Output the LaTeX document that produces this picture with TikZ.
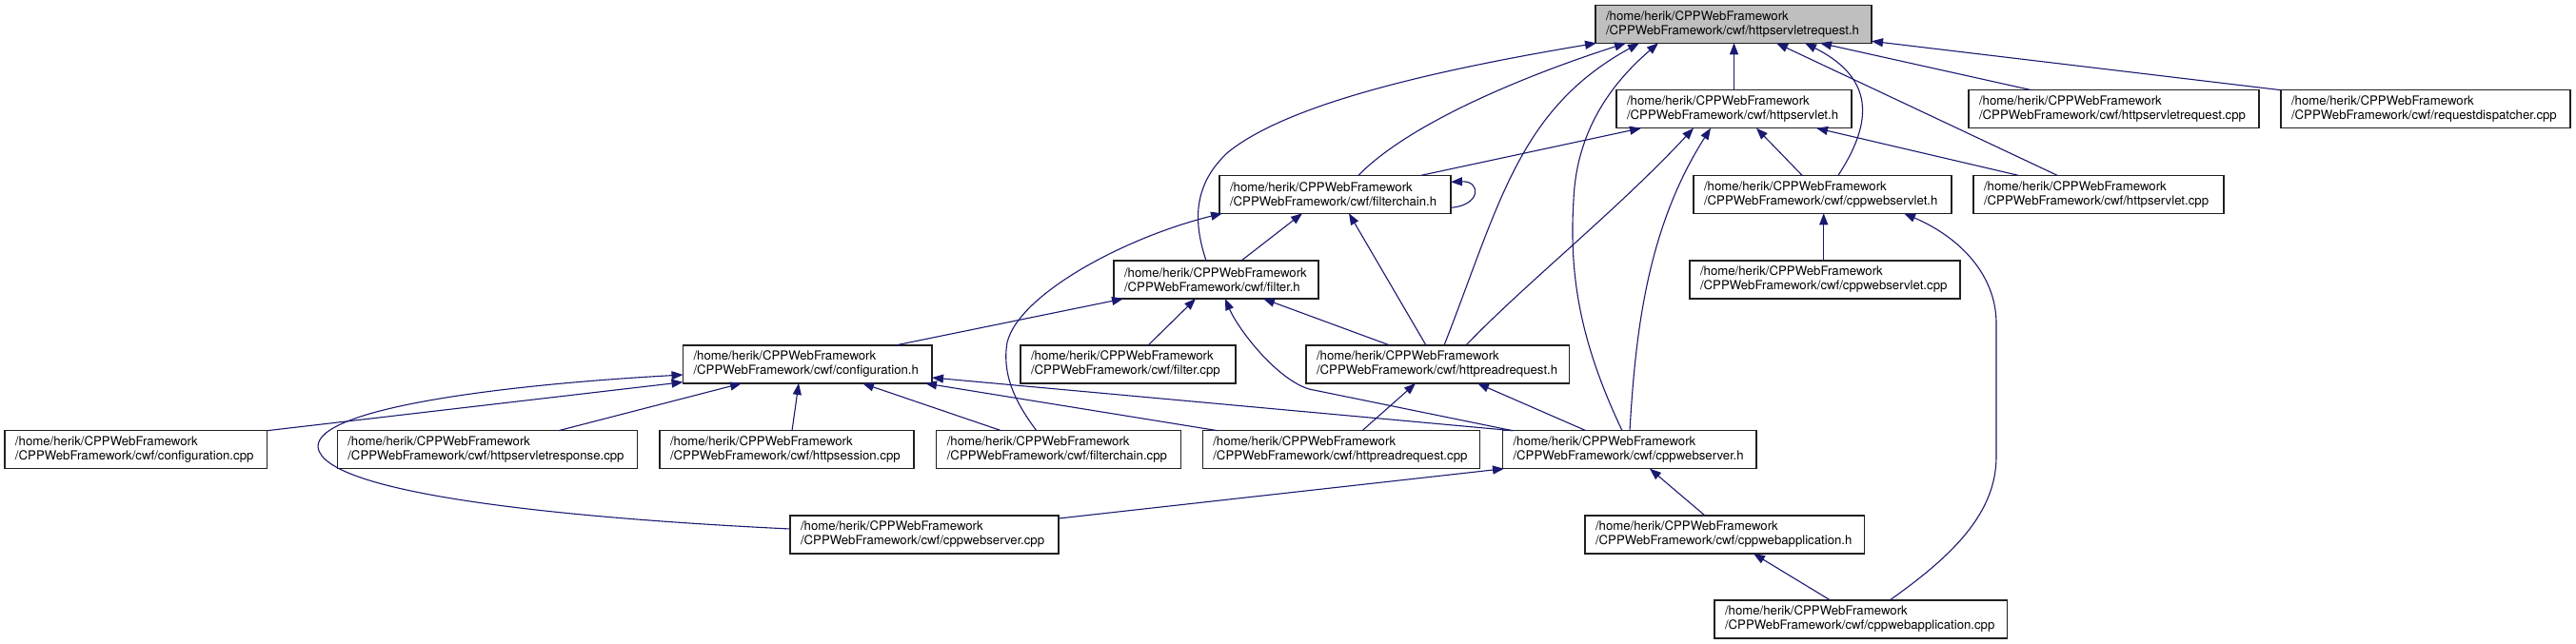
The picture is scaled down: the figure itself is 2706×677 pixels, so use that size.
\documentclass[tikz,border=0pt]{standalone}
\usepackage{fontspec}
\setmainfont{TeX Gyre Heros}
\usetikzlibrary{arrows.meta,calc}
\definecolor{edgeblue}{HTML}{191970}
\definecolor{topgrey}{HTML}{BFBFBF}
\definecolor{boxline}{HTML}{202020}
\newcommand{\lbl}[1]{\mbox{/home/herik/CPPWebFramework}\\\mbox{/CPPWebFramework/cwf/#1}}
\begin{document}
\begin{tikzpicture}[x=1pt,y=-1pt,
  box/.style={draw=boxline, line width=1.1pt, fill=white, minimum height=40pt,
    inner xsep=11pt, inner ysep=0pt, outer sep=0pt, align=left,
    font=\fontsize{13.2}{15}\selectfont},
  edge/.style={draw=edgeblue, line width=1.1pt, -{Triangle[length=12pt,width=9pt]}}]
\fill[white] (0,0) rectangle (2706,677);
\useasboundingbox (0,0) rectangle (2706,677);

% row 0
\node[box,fill=topgrey,text width=268pt] (hsrh) at (1821,25.3) {\lbl{httpservletrequest.h}};
% row 1
\node[box,text width=225pt] (hservh) at (1821.5,114.7) {\lbl{httpservlet.h}};
\node[box,text width=283pt] (hsrcpp) at (2220.5,114.7) {\lbl{httpservletrequest.cpp}};
\node[box,text width=282pt] (rdcpp) at (2548,114.7) {\lbl{requestdispatcher.cpp}};
% row 2
\node[box,text width=221pt] (fch) at (1402.5,204.3) {\lbl{filterchain.h}};
\node[box,text width=249pt] (cwsh) at (1914.5,204.3) {\lbl{cppwebservlet.h}};
\node[box,text width=241pt] (hservcpp) at (2204.5,204.3) {\lbl{httpservlet.cpp}};
% row 3
\node[box,text width=193pt] (filterh) at (1277.5,294) {\lbl{filter.h}};
\node[box,text width=262pt] (cwscpp) at (1917,294) {\lbl{cppwebservlet.cpp}};
% row 4
\node[box,text width=239.5pt] (configh) at (848.25,383) {\lbl{configuration.h}};
\node[box,text width=204pt] (filtercpp) at (1185,383) {\lbl{filter.cpp}};
\node[box,text width=254.5pt] (hrrh) at (1510.25,383) {\lbl{httpreadrequest.h}};
% row 5
\node[box,text width=253.6pt] (configcpp) at (142.8,472.7) {\lbl{configuration.cpp}};
\node[box,text width=293.2pt] (hsrespcpp) at (511.9,472.7) {\lbl{httpservletresponse.cpp}};
\node[box,text width=245pt] (hsesscpp) at (826.5,472.7) {\lbl{httpsession.cpp}};
\node[box,text width=234.6pt] (fccpp) at (1112.1,472.7) {\lbl{filterchain.cpp}};
\node[box,text width=269.1pt] (hrrcpp) at (1408.85,472.7) {\lbl{httpreadrequest.cpp}};
\node[box,text width=244.5pt] (cwserverh) at (1711.75,472.7) {\lbl{cppwebserver.h}};
% row 6
\node[box,text width=260pt] (cwservercpp) at (971,562) {\lbl{cppwebserver.cpp}};
\node[box,text width=271.5pt] (cwapph) at (1811.75,562) {\lbl{cppwebapplication.h}};
% row 7
\node[box,text width=285.3pt] (cwappcpp) at (1954.65,651) {\lbl{cppwebapplication.cpp}};

% edges into httpservletrequest.h
\draw[edge] (hservh.north) -- (hservh.north |- hsrh.south);
\draw[edge] ([xshift=66pt]hsrcpp.north west) -- ([xshift=236pt]hsrh.south west);
\draw[edge] (rdcpp.north west) -- ([yshift=2pt]hsrh.south east);
\draw[edge] ([xshift=88pt]hservcpp.north west) -- ([xshift=190pt]hsrh.south west);
\draw[edge] ([xshift=152pt]cwsh.north west) .. controls (1963,135) and (1975,85) .. ([xshift=220pt]hsrh.south west);
\draw[edge] ([xshift=146pt]fch.north west) .. controls (1480,130) and (1600,80) .. ([xshift=32pt]hsrh.south west);
\draw[edge] ([xshift=97pt]filterh.north west) .. controls (1254,235) and (1252,195) .. (1290,160)
  .. controls (1352,110) and (1500,75) .. ([xshift=1pt]hsrh.south west);
\draw[edge] ([xshift=145pt]hrrh.north west) .. controls (1575,215) and (1595,115) .. ([xshift=46pt]hsrh.south west);
\draw[edge] ([xshift=125.5pt]cwserverh.north west) .. controls (1660,360) and (1648,290) .. (1653,210)
  .. controls (1656,140) and (1690,90) .. ([xshift=66pt]hsrh.south west);

% edges into httpservlet.h
\draw[edge] ([xshift=212pt]fch.north west) -- ([xshift=26pt]hservh.south west);
\draw[edge] ([xshift=168pt]hrrh.north west) .. controls (1600,300) and (1700,220) .. ([xshift=81pt]hservh.south west);
\draw[edge] ([xshift=133.5pt]cwserverh.north west) .. controls (1718,350) and (1730,240) .. ([xshift=99pt]hservh.south west);
\draw[edge] ([xshift=114pt]cwsh.north west) -- ([xshift=147pt]hservh.south west);
\draw[edge] ([xshift=47pt]hservcpp.north west) -- ([xshift=210pt]hservh.south west);

% edges into filterchain.h
\draw[edge] ([yshift=6pt]fch.south east) .. controls (1556,216) and (1556,190) .. ([yshift=-7pt]fch.north east);
\draw[edge] ([xshift=105pt]fccpp.north west) .. controls (1068,425) and (1052,395) .. (1058,360)
  .. controls (1070,310) and (1180,250) .. ([xshift=3pt]fch.south west);
\draw[edge] ([xshift=134pt]filterh.north west) -- ([xshift=87pt]fch.south west);
\draw[edge] ([xshift=126pt]hrrh.north west) -- ([xshift=136pt]fch.south west);

% edges into filter.h
\draw[edge] ([xshift=223pt]configh.north west) -- ([xshift=10pt]filterh.south west);
\draw[edge] ([xshift=134pt]filtercpp.north west) -- ([xshift=86pt]filterh.south west);
\draw[edge] ([xshift=88pt]hrrh.north west) -- ([xshift=157pt]filterh.south west);
\draw[edge] ([xshift=10.5pt]cwserverh.north west) -- (1375,409) .. controls (1340,398) and (1300,345) .. ([xshift=117pt]filterh.south west);

% edges into configuration.h
\draw[edge] (configcpp.north east) -- ([yshift=1.3pt]configh.south west);
\draw[edge] ([yshift=-14pt]cwservercpp.north west) .. controls (600,545) and (340,520) .. (334,470)
  .. controls (332,430) and (520,405) .. ([yshift=-31pt]configh.north west);
\draw[edge] ([xshift=232.4pt]hsrespcpp.north west) -- ([xshift=61.5pt]configh.south west);
\draw[edge] ([xshift=139pt]hsesscpp.north west) -- ([xshift=121.5pt]configh.south west);
\draw[edge] ([xshift=68pt]fccpp.north west) -- ([xshift=188.5pt]configh.south west);
\draw[edge] ([xshift=15.7pt]hrrcpp.north west) -- ([xshift=-7pt]configh.south east);
\draw[edge] ([xshift=10.5pt]cwserverh.north west) -- ([yshift=-34pt]configh.north east);

% edges into httpreadrequest.h
\draw[edge] ([xshift=167.7pt]hrrcpp.north west) -- ([xshift=115pt]hrrh.south west);
\draw[edge] ([xshift=87.5pt]cwserverh.north west) -- ([xshift=180pt]hrrh.south west);

% lower edges
\draw[edge] ([yshift=-3pt]cwservercpp.north east) -- ([xshift=1.5pt]cwserverh.south west);
\draw[edge] ([xshift=126pt]cwapph.north west) -- ([xshift=154.5pt]cwserverh.south west);
\draw[edge] ([xshift=121.7pt]cwappcpp.north west) -- ([xshift=177pt]cwapph.south west);
\draw[edge] ([xshift=184pt]cwappcpp.north west) .. controls (2050,585) and (2097,540) .. (2097,480)
  -- (2097,340) .. controls (2097,290) and (2060,250) .. ([xshift=221pt]cwsh.south west);
\draw[edge] ([xshift=140.7pt]cwscpp.north west) -- ([xshift=136.7pt]cwsh.south west);
\end{tikzpicture}
\end{document}
